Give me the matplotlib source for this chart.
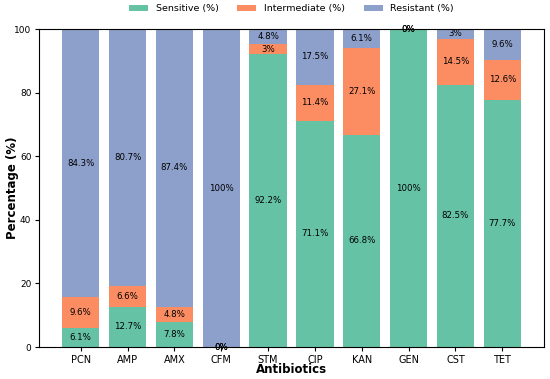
import numpy as np
import matplotlib
matplotlib.use("Agg")
import matplotlib.pyplot as plt

antibiotics = ["PCN", "AMP", "AMX", "CFM", "STM", "CIP", "KAN", "GEN", "CST", "TET"]
sensitive = [6.1, 12.7, 7.8, 0, 92.2, 71.1, 66.8, 100, 82.5, 77.7]
intermediate = [9.6, 6.6, 4.8, 0, 3, 11.4, 27.1, 0, 14.5, 12.6]
resistant = [84.3, 80.7, 87.4, 100, 4.8, 17.5, 6.1, 0, 3, 9.6]

series = [("Sensitive (%)", sensitive, "#66c2a5"),
          ("Intermediate (%)", intermediate, "#fc8d62"),
          ("Resistant (%)", resistant, "#8da0cb")]

fig = plt.figure(figsize=(5.5, 3.79), dpi=100)
ax = fig.add_axes([0.071, 0.0844, 0.918, 0.839])

x = np.arange(len(antibiotics))
bottom = np.zeros(len(antibiotics))
for name, vals, color in series:
    vals = np.array(vals, dtype=float)
    ax.bar(x, vals, 0.8, bottom=bottom, color=color, label=name)
    for xi, b, v in zip(x, bottom, vals):
        ax.text(xi, b + v / 2, f"{v:g}%", ha="center", va="center", fontsize=6.2)
    bottom += vals

ax.set_xticks(x)
ax.set_xticklabels(antibiotics, fontsize=7)
ax.tick_params(axis="y", labelsize=6.5)
ax.tick_params(length=3, pad=2.5)
ax.set_ylim(0, 100)
ax.set_xlabel("Antibiotics", fontsize=8.5, fontweight="bold")
ax.set_ylabel("Percentage (%)", fontsize=8.5, fontweight="bold")
ax.xaxis.set_label_coords(0.5, -0.072)
ax.xaxis.label.set_va("center")
ax.yaxis.set_label_coords(-0.053, 0.5)
ax.yaxis.label.set_va("center")

ax.legend(loc="center", ncol=3, frameon=False, fontsize=6.8,
          bbox_to_anchor=(0.5, 1.063), borderaxespad=0)

plt.savefig("out.png", dpi=100)
